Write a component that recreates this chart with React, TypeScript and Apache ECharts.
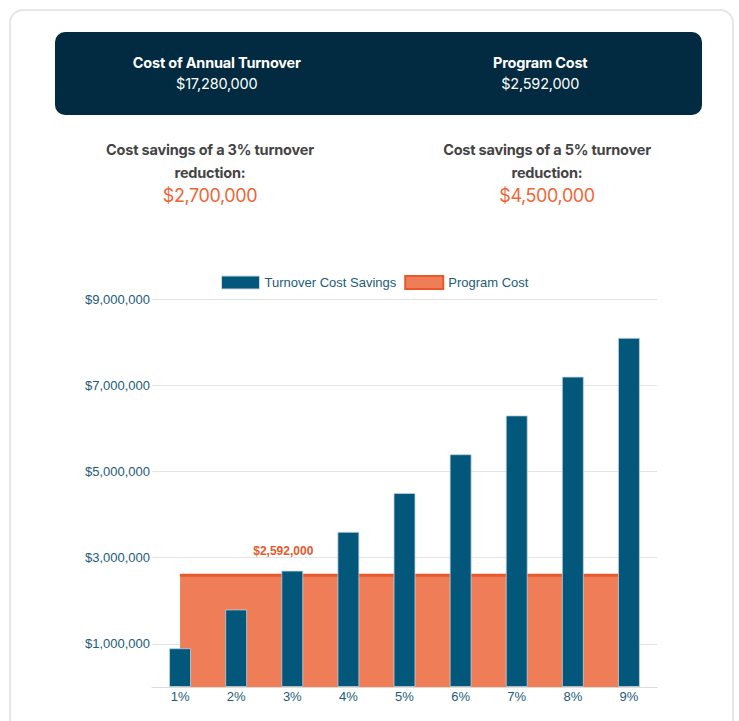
import React, { useEffect, useRef } from "react";
import * as echarts from "echarts";

const categories = ["1%", "2%", "3%", "4%", "5%", "6%", "7%", "8%", "9%"];
const turnoverSavings = [900000, 1800000, 2700000, 3600000, 4500000, 5400000, 6300000, 7200000, 8100000];
const programCost = [2592000, 2592000, 2592000, 2592000, 2592000, 2592000, 2592000, 2592000, 2592000];
const programCostLabelIndex = 2;
const headerItems = [
  { title: "Cost of Annual Turnover", value: "$17,280,000" },
  { title: "Program Cost", value: "$2,592,000" },
];
const savingsItems = [
  { line1: "Cost savings of a 3% turnover", line2: "reduction:", value: "$2,700,000" },
  { line1: "Cost savings of a 5% turnover", line2: "reduction:", value: "$4,500,000" },
];

const BLUE = "#03577b";
const ORANGE_LINE = "#e8582b";
const ORANGE_FILL = "#ef7e58";
const AXIS_TEXT = "#1c5b7a";
const FONT = "'Liberation Sans', Arial, Helvetica, sans-serif";
const UI_FONT = "Inter, 'Noto Sans', sans-serif";

const fmtMoney = (v: number) => "$" + Math.round(v).toLocaleString("en-US");

function Chart() {
  const ref = useRef<HTMLDivElement>(null);
  useEffect(() => {
    if (!ref.current) return;
    const chart = echarts.init(ref.current, undefined, { renderer: "svg" });
    chart.setOption({
      animation: false,
      backgroundColor: "transparent",
      textStyle: { fontFamily: FONT },
      legend: {
        top: 30,
        left: 216,
        itemWidth: 38,
        itemHeight: 13,
        itemGap: 8,
        icon: "rect",
        textStyle: { color: AXIS_TEXT, fontSize: 13, fontFamily: FONT },
        data: [
          { name: "Turnover Cost Savings", itemStyle: { color: BLUE, borderColor: "#c9d7df", borderWidth: 1 } },
          { name: "Program Cost", itemStyle: { color: ORANGE_FILL, borderColor: ORANGE_LINE, borderWidth: 2 } },
        ],
      },
      grid: { left: 152, right: 82, top: 59, bottom: 34, containLabel: false },
      xAxis: {
        type: "category",
        data: categories,
        axisLine: { show: true, lineStyle: { color: "#dcdcdc", width: 1 } },
        axisTick: { show: false },
        axisLabel: { color: AXIS_TEXT, fontSize: 13, margin: 3, fontFamily: FONT },
        splitLine: { show: false },
      },
      yAxis: {
        type: "value",
        min: 0,
        max: 9000000,
        interval: 1000000,
        axisLine: { show: false },
        axisTick: { show: false },
        axisLabel: {
          color: AXIS_TEXT,
          fontSize: 13,
          margin: 2,
          fontFamily: FONT,
          formatter: (v: number) => (Math.round(v / 1000000) % 2 === 1 ? fmtMoney(v) : ""),
        },
        splitLine: { show: true, lineStyle: { color: ["transparent", "#e4e4e4"], width: 1 } },
      },
      series: [
        {
          name: "Program Cost",
          type: "line",
          z: 1,
          data: programCost.map((v, i) =>
            i === programCostLabelIndex
              ? {
                  value: v,
                  label: {
                    show: true,
                    position: "top",
                    offset: [-9, -13],
                    formatter: () => fmtMoney(v),
                    color: ORANGE_LINE,
                    fontWeight: "bold",
                    fontSize: 12,
                    fontFamily: FONT,
                  },
                }
              : v
          ),
          symbol: "circle",
          symbolSize: 1,
          showSymbol: true,
          itemStyle: { color: ORANGE_LINE },
          lineStyle: { color: ORANGE_LINE, width: 3 },
          areaStyle: { color: ORANGE_FILL, opacity: 1 },
          label: { show: false },
        },
        {
          name: "Turnover Cost Savings",
          type: "bar",
          z: 2,
          data: turnoverSavings,
          barWidth: 22,
          itemStyle: { color: BLUE, borderColor: "rgba(190,210,222,0.8)", borderWidth: 1 },
        },
      ],
    });
    return () => chart.dispose();
  }, []);
  return <div ref={ref} style={{ position: "absolute", left: 0, top: 240, width: 739, height: 481 }} />;
}

export default function App() {
  return (
    <div style={{ position: "absolute", left: 0, top: 0, width: 739, height: 721, overflow: "hidden", background: "#fff" }}>
      <div
        style={{
          position: "absolute",
          left: 9,
          top: 9,
          width: 725,
          height: 740,
          border: "2px solid #e6e6e6",
          borderRadius: 14,
          boxSizing: "border-box",
        }}
      />
      <div
        style={{
          position: "absolute",
          left: 55,
          top: 32,
          width: 647,
          height: 83,
          background: "#022a40",
          borderRadius: 10,
          display: "flex",
          fontFamily: UI_FONT,
          color: "#fff",
        }}
      >
        {headerItems.map((h) => (
          <div key={h.title} style={{ flex: 1, textAlign: "center", paddingTop: 21 }}>
            <div style={{ fontWeight: 700, fontSize: 14.5, lineHeight: "20px", letterSpacing: -0.2 }}>{h.title}</div>
            <div style={{ fontSize: 14.5, lineHeight: "22px", letterSpacing: -0.2 }}>{h.value}</div>
          </div>
        ))}
      </div>
      {savingsItems.map((s, i) => (
        <div
          key={s.value}
          style={{
            position: "absolute",
            left: i === 0 ? 70 : 407,
            top: 138,
            width: 280,
            textAlign: "center",
            fontFamily: UI_FONT,
          }}
        >
          <div style={{ fontWeight: 700, fontSize: 14.5, lineHeight: "23px", color: "#444", letterSpacing: -0.2 }}>
            {s.line1}
            <br />
            {s.line2}
          </div>
          <div style={{ fontSize: 18, lineHeight: "24px", color: "#ef6536", letterSpacing: -0.4 }}>{s.value}</div>
        </div>
      ))}
      <Chart />
    </div>
  );
}
